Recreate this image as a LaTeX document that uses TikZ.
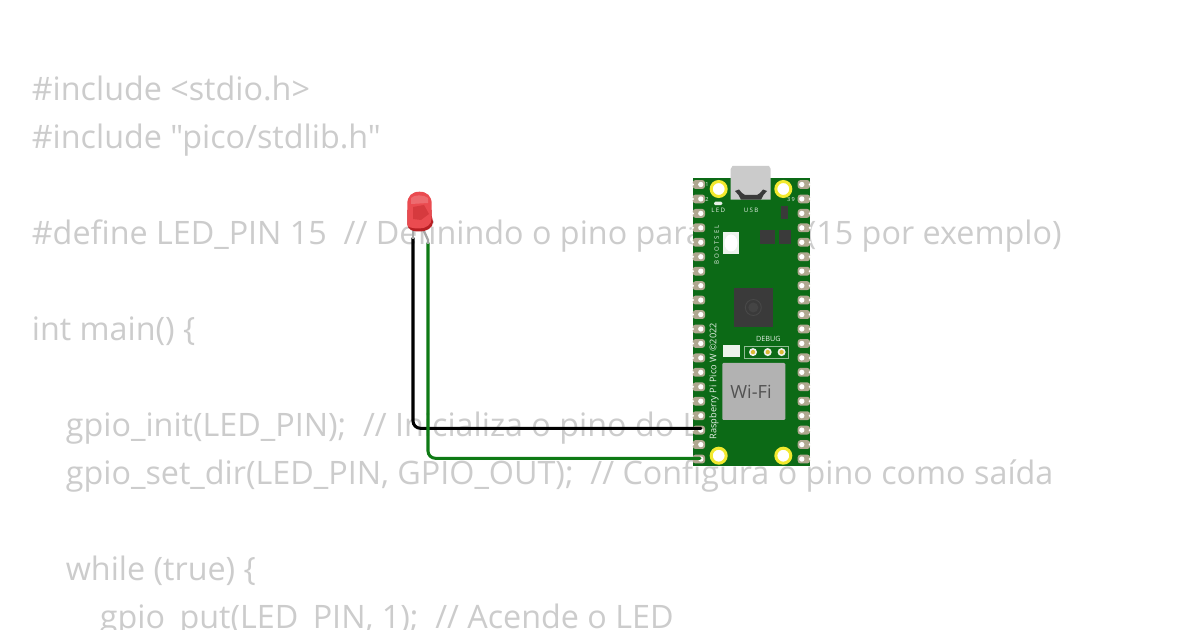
\documentclass[tikz,border=0pt]{standalone}
\usepackage{fontspec}
\setmainfont{Open Sans}
\newfontfamily\codefont[Ligatures=NoCommon]{Open Sans}
\newfontfamily\spacedfont[LetterSpace=22]{Open Sans}
\newfontfamily\wideboot[LetterSpace=34]{Open Sans}
\definecolor{codegray}{HTML}{CCCCCC}
\definecolor{pcb}{HTML}{0C6A16}
\definecolor{pad}{HTML}{B0A890}
\definecolor{ringy}{HTML}{F2E92E}
\definecolor{usbgray}{HTML}{CBCBCB}
\definecolor{darkchip}{HTML}{3A3A3A}
\definecolor{wifigray}{HTML}{B2B2B2}
\definecolor{wiregreen}{HTML}{0E7A14}
\definecolor{ledred}{HTML}{EA4B50}
\definecolor{ledmid}{HTML}{D63A3E}
\definecolor{ledrim}{HTML}{B81F24}
\tikzset{
  codeline/.style={anchor=base west,inner sep=0pt,text=codegray,font=\fontsize{24.22}{24}\codefont},
  wire/.style={line width=2.3pt,rounded corners=5.5pt,line cap=round},
  silk/.style={inner sep=0pt,text=white!90!pcb},
  hole/.style={circle,fill=white,inner sep=0pt,minimum size=4pt},
  ringhole/.style={circle,draw=ringy,line width=2.25pt,fill=white,inner sep=0pt,minimum size=11.25pt},
}
\newcommand{\dsp}{\hspace{0.52em}}
\begin{document}
\begin{tikzpicture}[x=0.75pt,y=-0.75pt]
\useasboundingbox (0,0) rectangle (1200,630);
\fill[white] (0,0) rectangle (1200,630);
\begin{scope}
\clip (0,0) rectangle (1200,630);
\node[codeline] (l1) at (31.6,100.3) {\#include <stdio.h>};
\node[codeline] (l2) at (31.6,148.3) {\#include "pico/stdlib.h"};
\node[codeline] (l3) at (31.6,244.3) {\#define LED\_PIN 15\dsp // Definindo o pino para o LED (15 por exemplo)};
\node[codeline] (l4) at (31.6,340.3) {int main() \{};
\node[codeline] (l5) at (65.6,436.3) {gpio\_init(LED\_PIN);\dsp // Inicializa o pino do LED};
\node[codeline] (l6) at (65.6,484.3) {gpio\_set\_dir(LED\_PIN, GPIO\_OUT);\dsp // Configura o pino como saída};
\node[codeline] (l7) at (65.6,580.3) {while (true) \{};
\node[codeline] (l8) at (99.6,628.3) {gpio\_put(LED\_PIN, 1);\dsp // Acende o LED};
\end{scope}
% board
\fill[pcb] (692.7,178) rectangle (810,466);
\foreach \i in {0,...,19}{
  \pgfmathsetmacro{\py}{184.5+14.45*\i}
  \fill[pad,rounded corners=2pt] (692.7,\py-4.4) rectangle (705,\py+4.4);
  \fill[pad,rounded corners=2pt] (797.7,\py-4.4) rectangle (810,\py+4.4);
  \fill[white] (692.7,\py) circle[radius=1.4];
  \fill[white] (810,\py) circle[radius=1.4];
  \node[hole] at (700.8,\py) {};
  \node[hole] at (801.8,\py) {};
}
\node[ringhole] (m1) at (718.7,189) {};
\node[ringhole] (m2) at (783.3,189) {};
\node[ringhole] (m3) at (718.7,455.7) {};
\node[ringhole] (m4) at (783.3,455.7) {};
% usb
\fill[usbgray] (732.5,166) -- (769,166) -- (770.7,169) -- (770.7,199.7) -- (730.7,199.7) -- (730.7,169) -- cycle;
\fill[darkchip] (735,191) -- (739,189.5) -- (742,193) -- (745,195) -- (757,195) -- (760,193) -- (763,189.5) -- (767,191) -- (763.5,195) -- (761,199.7) -- (741,199.7) -- (738.5,195) -- cycle;
% small parts
\fill[white!90!pcb,rounded corners=1pt] (714,201.7) rectangle (722.3,205.2);
\fill[darkchip] (781,205.7) rectangle (788.3,219);
\fill[darkchip] (760,229.7) rectangle (774.5,244);
\fill[darkchip] (779.3,229.7) rectangle (790.5,244);
\fill[white!92!pcb] (722.7,231.7) rectangle (739.3,254);
\fill[white] (731,243) ellipse[x radius=6.5,y radius=8.5];
\node[silk,font=\fontsize{4.6}{5}\spacedfont] (t1) at (718.3,210) {LED};
\node[silk,font=\fontsize{4.6}{5}\spacedfont] (t2) at (751,210) {USB};
\node[silk,font=\fontsize{4.2}{5}\selectfont] (t3) at (707,185) {1};
\node[silk,font=\fontsize{4.2}{5}\selectfont] (t4) at (707,199.5) {2};
\node[silk,font=\fontsize{4.2}{5}\spacedfont] (t5) at (791,199.5) {39};
\node[silk,rotate=90,font=\fontsize{4.6}{5}\wideboot] (t6) at (716.7,244.5) {BOOTSEL};
% chip
\fill[darkchip] (734,288.3) rectangle (772.7,327.3);
\draw[white,opacity=.08,line width=.6pt] (753.3,307.5) circle[radius=8];
\fill[white,opacity=.05] (753.3,307.5) circle[radius=5];
% debug
\node[silk,font=\fontsize{5.4}{6}\selectfont] (t7) at (768.3,338.5) {DEBUG};
\draw[white!55!pcb,line width=.5pt] (744.7,346) rectangle (788.7,358.3);
\foreach \dx in {753,767.7,781.6}{
  \fill[white!85!pad] (\dx,352.1) circle[radius=4];
  \fill[ringy!55!brown] (\dx,352.1) circle[radius=2.2];
}
\fill[white!92!pcb] (723.3,345) rectangle (740,357.3);
% wifi
\fill[wifigray,rounded corners=.8pt] (722.3,363) rectangle (785.3,420);
\node[inner sep=0pt,text=black!68,font=\fontsize{13.6}{16}\selectfont] (wifi) at (751,392) {Wi-Fi};
\node[silk,rotate=90,anchor=west,font=\fontsize{6.9}{8}\selectfont] (t8) at (714,439.5) {Raspberry Pi Pico W ©2022};
% led leads and wires
\coordinate (ledA) at (413,238);
\coordinate (ledC) at (428,243);
\coordinate (pinA) at (701,428.3);
\coordinate (pinC) at (700,458.3);
\draw[wire,black] (ledA) |- (pinA);
\draw[wire,wiregreen] (ledC) |- (pinC);
\draw[line width=1.7pt,gray!70] (413,229) -- (413,239);
\draw[line width=1.7pt,gray!70] (423,229) -- (428,240) -- (428,244);
% led
\fill[ledrim] (407.3,210) -- (407.3,224) .. controls (408,230) and (412,231.5) .. (419,231.5) .. controls (427,231.5) and (433,228) .. (433,222) .. controls (433,219) and (431.7,218) .. (431.7,216) -- (431.7,210) -- cycle;
\fill[ledred] (407.3,225) -- (407.3,204) .. controls (407.3,196) and (412,191.7) .. (419.5,191.7) .. controls (427,191.7) and (431.7,196) .. (431.7,204) -- (431.7,218) .. controls (431.7,225) and (426,228.5) .. (419,228.5) .. controls (412,228.5) and (407.3,227) .. (407.3,225) -- cycle;
\fill[ledmid] (413,207) -- (424,205) -- (429,214) -- (421,220) -- (413,219) -- cycle;
\fill[white,opacity=.18] (411,198) .. controls (414,194.5) and (424,194.5) .. (428,198) -- (428,203) -- (411,204) -- cycle;
\end{tikzpicture}
\end{document}
